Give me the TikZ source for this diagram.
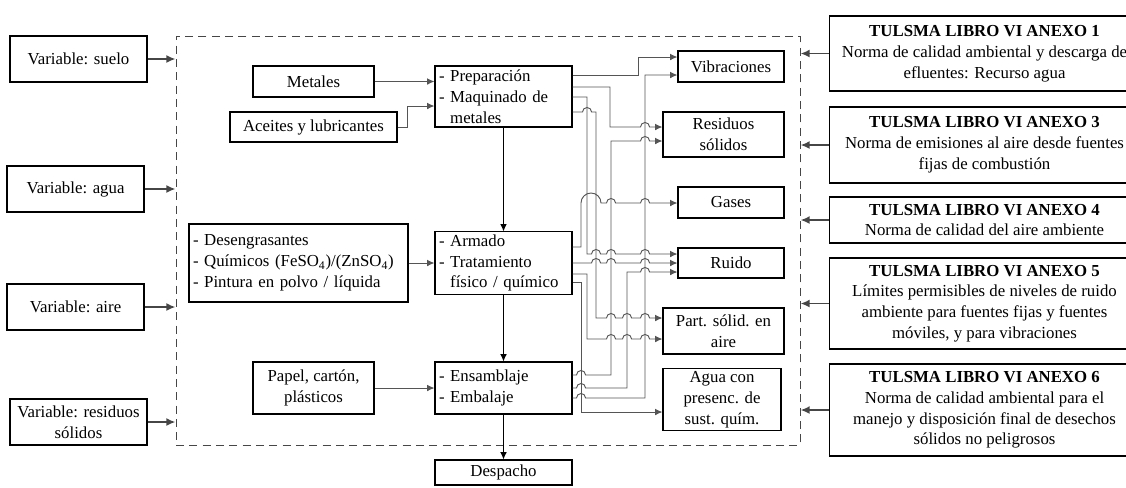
\documentclass[tikz,border=0pt]{standalone}
\usepackage{fontspec}
\setmainfont{Liberation Serif}
\usepackage{tikz}
\usetikzlibrary{positioning}
\usetikzlibrary{arrows.meta}
\definecolor{wiregray}{RGB}{85,85,85}
\definecolor{darkgray}{RGB}{70,70,70}
% small bridge where a line crosses another one
\newcommand{\hop}[2]{-- (#1-4.5,#2) arc[start angle=180,end angle=0,radius=3.4pt]}

\begin{document}
\begin{tikzpicture}[x=0.75pt,y=-0.75pt,>={Latex[length=5.5pt,width=5pt]},
  every node/.style={font=\fontsize{12.6pt}{15.6pt}\selectfont},
  box/.style={draw,line width=0.8pt,inner sep=2pt,align=center},
  stage/.style={draw,line width=0.8pt,inner xsep=3pt,inner ysep=2pt,align=left},
  norma/.style={draw,line width=1pt,inner sep=2pt,align=center,minimum width=232.5pt},
  wire/.style={draw=wiregray,line width=0.7pt,->},
  flow/.style={draw=black,line width=0.7pt,->},
  feed/.style={draw=darkgray,line width=1.4pt,-{Latex[length=7pt,width=6pt]}},
  frame/.style={draw=darkgray,dash pattern=on 6pt off 4pt,line width=0.6pt}]

\useasboundingbox (0,0) rectangle (1126,487);

\node[frame,minimum width=468pt,minimum height=306.75pt] (area) at (488,240.5) {};

% variables
\node[box,minimum width=102.75pt,minimum height=34.5pt] (suelo) at (78.5,59) {Variable: suelo};
\node[box,minimum width=102.75pt,minimum height=34.5pt] (agua) at (75.5,189) {Variable: agua};
\node[box,minimum width=102.75pt,minimum height=34.5pt] (aire) at (75.5,307) {Variable: aire};
\node[box,minimum width=102.75pt,minimum height=34.5pt] (resvar) at (78.5,422) {Variable: residuos\\sólidos};

% inputs
\node[box,minimum width=90.75pt,minimum height=23.25pt] (metales) at (313.5,81.5) {Metales};
\node[box,minimum width=125.25pt,minimum height=22.5pt] (aceites) at (313.5,127) {Aceites y lubricantes};
\node[stage,text width=158.25pt,minimum height=58.5pt] (desen) at (298.5,263) {- Desengrasantes\\- Químicos (FeSO\textsubscript{4})/(ZnSO\textsubscript{4})\\- Pintura en polvo / líquida};
\node[box,minimum width=90.75pt,minimum height=39pt] (papel) at (313.5,388) {Papel, cartón,\\plásticos};

% stages
\node[stage,text width=96.75pt,minimum height=45.75pt] (prep) at (503.5,96.5) {- Preparación\\- Maquinado de\\\phantom{- }metales};
\node[stage,text width=96.75pt,minimum height=45pt] (arm) at (503.5,263) {- Armado\\- Tratamiento\\\phantom{- }físico / químico};
\node[stage,text width=96.75pt,minimum height=39pt] (ens) at (503.5,388) {- Ensamblaje\\- Embalaje};
\node[box,minimum width=102.75pt,minimum height=18.75pt] (desp) at (503.5,472.5) {Despacho};

% outputs
\node[box,minimum width=79.5pt,minimum height=23.25pt] (vib) at (731,66.5) {Vibraciones};
\node[box,minimum width=90.75pt,minimum height=33.75pt] (resid) at (723.5,134.5) {Residuos\\sólidos};
\node[box,minimum width=79.5pt,minimum height=23.25pt] (gases) at (731,202.5) {Gases};
\node[box,minimum width=79.5pt,minimum height=22.5pt] (ruido) at (731,263) {Ruido};
\node[box,minimum width=90.75pt,minimum height=34.5pt] (part) at (723.5,331) {Part. sólid. en\\aire};
\node[box,minimum width=88.5pt,minimum height=45.75pt] (aguaout) at (722,399.5) {Agua con\\presenc. de\\sust. quím.};

% regulations
\node[norma,minimum height=56.25pt] (an1) at (984.5,53.5) {\textbf{TULSMA LIBRO VI ANEXO 1}\\Norma de calidad ambiental y descarga de\\efluentes: Recurso agua};
\node[norma,minimum height=57pt] (an3) at (984.5,145) {\textbf{TULSMA LIBRO VI ANEXO 3}\\Norma de emisiones al aire desde fuentes\\fijas de combustión};
\node[norma,minimum height=34.5pt] (an4) at (984.5,220) {\textbf{TULSMA LIBRO VI ANEXO 4}\\Norma de calidad del aire ambiente};
\node[norma,minimum height=68.25pt] (an5) at (984.5,303.5) {\textbf{TULSMA LIBRO VI ANEXO 5}\\Límites permisibles de niveles de ruido\\ambiente para fuentes fijas y fuentes\\móviles, y para vibraciones};
\node[norma,minimum height=69pt] (an6) at (984.5,410) {\textbf{TULSMA LIBRO VI ANEXO 6}\\Norma de calidad ambiental para el\\manejo y disposición final de desechos\\sólidos no peligrosos};

\foreach \v in {suelo,agua,aire,resvar}
  \draw[feed] (\v.east) -- (\v.east -| area.west);
\foreach \a in {an1,an3,an4,an5,an6}
  \draw[feed] (\a.west) -- (\a.west -| area.east);

% main flow
\draw[wire] (metales.east) -- (metales.east -| prep.west);
\draw[wire] (aceites.east) -- ++(10,0) |- (prep.west |- 0,106);
\draw[wire] (desen.east) -- (arm.west);
\draw[wire] (papel.east) -- (ens.west);
\draw[flow] (prep.south) -- (arm.north);
\draw[flow] (arm.south) -- (ens.north);
\draw[flow] (ens.south) -- (desp.north);

% impacts
\draw[wire] (prep.east |- 0,75) -| (638,57) -- (vib.west |- 0,57);
\draw[wire] (prep.east |- 0,87) -| (610,127) \hop{645}{127} -- (resid.west |- 0,127);
\draw[wire] (prep.east |- 0,97) -| (587,254) \hop{596}{254} \hop{611}{254} \hop{645}{254} -- (ruido.west |- 0,254);
\draw[wire] (prep.east |- 0,112) \hop{587}{112} -| (596,318) \hop{611}{318} \hop{627}{318} \hop{645}{318} -- (part.west |- 0,318);

\draw[wire] (arm.east |- 0,247) -| (581,203) arc[start angle=180,end angle=0,radius=7.5pt] \hop{611}{203} \hop{645}{203} -- (gases.west |- 0,203);
\draw[wire] (arm.east |- 0,263) \hop{596}{263} \hop{611}{263} \hop{645}{263} -- (ruido.west |- 0,263);
\draw[wire] (arm.east |- 0,274) -| (587,339) \hop{611}{339} \hop{627}{339} \hop{645}{339} -- (part.west |- 0,339);
\draw[wire] (arm.east |- 0,282) -| (581,412) -- (aguaout.west |- 0,412);

\draw[wire] (ens.east |- 0,375) \hop{581}{375} -| (611,141) \hop{645}{141} -- (resid.west |- 0,141);
\draw[wire] (ens.east |- 0,388) \hop{581}{388} -| (627,272) \hop{645}{272} -- (ruido.west |- 0,272);
\draw[wire] (ens.east |- 0,398) \hop{581}{398} -| (645,75) -- (vib.west |- 0,75);
\end{tikzpicture}
\end{document}
